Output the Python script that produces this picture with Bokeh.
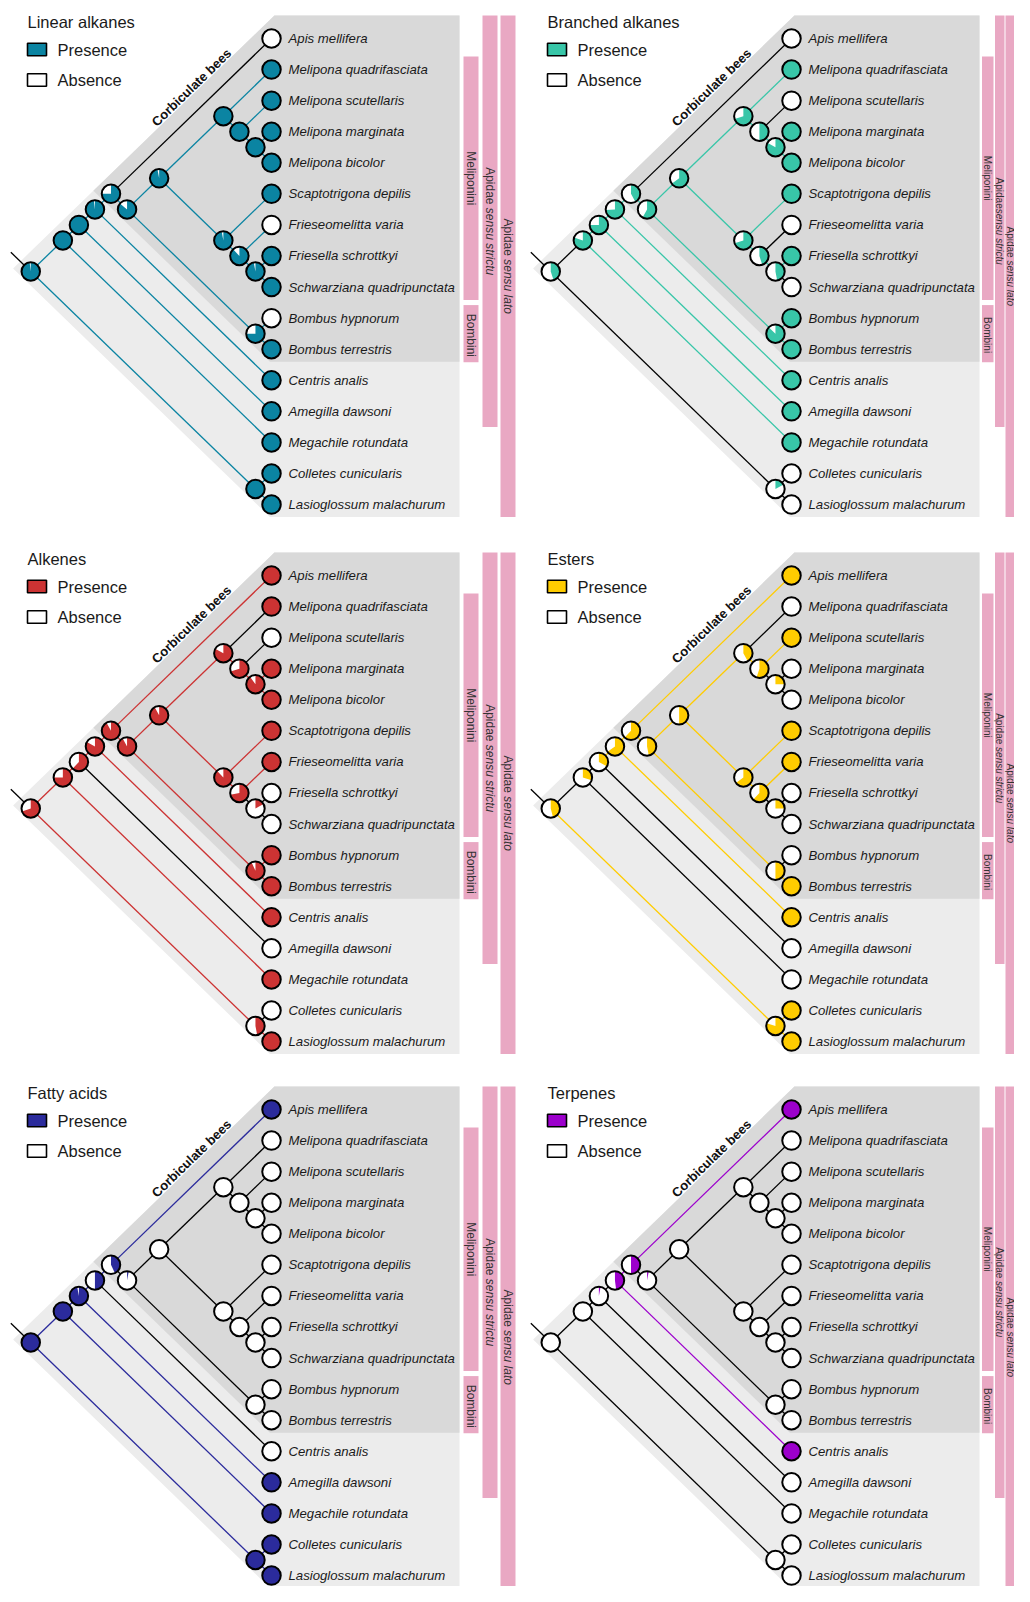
import math
from bokeh.plotting import figure
from bokeh.layouts import column, row
from bokeh.models import Range1d
from bokeh.core.properties import value
from bokeh.embed import file_html
from bokeh.resources import INLINE

# ---------------- data ----------------
TAXA = [
    "Apis mellifera", "Melipona quadrifasciata", "Melipona scutellaris",
    "Melipona marginata", "Melipona bicolor", "Scaptotrigona depilis",
    "Frieseomelitta varia", "Friesella schrottkyi", "Schwarziana quadripunctata",
    "Bombus hypnorum", "Bombus terrestris", "Centris analis", "Amegilla dawsoni",
    "Megachile rotundata", "Colletes cunicularis", "Lasioglossum malachurum",
]

# internal nodes (tips are integers = index in TAXA)
NODE_NAMES = ["root", "A", "B", "C", "D", "E", "F", "G", "H", "I", "J", "K", "L", "BOM", "CL"]
CHILDREN = {
    "root": ["A", "CL"], "A": ["B", 13], "B": ["C", 12], "C": ["D", 11],
    "D": [0, "E"], "E": ["F", "BOM"], "F": ["G", "J"], "G": [1, "H"],
    "H": [2, "I"], "I": [3, 4], "J": [5, "K"], "K": [6, "L"], "L": [7, 8],
    "BOM": [9, 10], "CL": [14, 15],
}

TRAITS = ["Linear alkanes", "Branched alkanes", "Alkenes", "Esters", "Fatty acids", "Terpenes"]
TRAIT_COLORS = ["#0b84a2", "#38c6a8", "#cc3333", "#ffcc00", "#2b2b9c", "#9c00cc"]

# tip states (1 = presence)
TIPS_LINEAR = [0, 1, 1, 1, 1, 1, 0, 1, 1, 0, 1, 1, 1, 1, 1, 1]
TIPS_BRANCHED = [0, 1, 0, 1, 1, 1, 0, 1, 0, 1, 1, 1, 1, 1, 0, 0]
TIPS_ALKENES = [1, 1, 0, 1, 1, 1, 1, 0, 0, 1, 1, 1, 0, 1, 0, 1]
TIPS_ESTERS = [1, 0, 1, 0, 0, 1, 1, 0, 0, 0, 1, 1, 0, 0, 1, 1]
TIPS_FATTY = [1, 0, 0, 0, 0, 0, 0, 0, 0, 0, 0, 0, 1, 1, 1, 1]
TIPS_TERPENES = [1, 0, 0, 0, 0, 0, 0, 0, 0, 0, 0, 1, 0, 0, 0, 0]

# probability of presence at internal nodes (order of NODE_NAMES)
NODES_LINEAR = [0.98, 1.0, 1.0, 0.98, 0.75, 0.86, 0.97, 1.0, 1.0, 1.0, 0.97, 0.88, 0.97, 0.75, 1.0]
NODES_BRANCHED = [0.45, 0.80, 0.75, 0.74, 0.42, 0.58, 0.65, 0.70, 0.50, 0.83, 0.70, 0.45, 0.47, 0.87, 0.17]
NODES_ALKENES = [0.70, 0.75, 0.62, 0.83, 0.92, 0.92, 0.92, 0.83, 0.70, 0.90, 0.88, 0.72, 0.17, 0.93, 0.47]
NODES_ESTERS = [0.46, 0.30, 0.33, 0.65, 0.62, 0.47, 0.50, 0.42, 0.55, 0.25, 0.65, 0.62, 0.25, 0.50, 0.80]
NODES_FATTY = [1.0, 1.0, 0.97, 0.50, 0.43, 0.03, 0, 0, 0, 0, 0, 0, 0, 0, 1.0]
NODES_TERPENES = [0, 0, 0.03, 0.48, 0.50, 0.03, 0, 0, 0, 0, 0, 0, 0, 0, 0]

# branches (identified by their child) drawn black instead of the trait colour
BLACK_LINEAR = [0]
BLACK_BRANCHED = ["A", "CL", 0, 2, 6, 8, 14, 15]
BLACK_ALKENES = [12, 1, 2, "L", 7, 8, 14]
BLACK_ESTERS = ["A", "B", 13, 12, 1, "I", 3, 4, "L", 7, 8, 9]
BLACK_FATTY = [1, 2, 3, 4, 5, 6, 7, 8, 9, 10, 11, "E", "F", "G", "H", "I", "J", "K", "L", "BOM"]
BLACK_TERPENES = [1, 2, 3, 4, 5, 6, 7, 8, 9, 10, 12, 13, 14, 15,
                  "A", "B", "C", "E", "F", "G", "H", "I", "J", "K", "L", "BOM", "CL"]

TIPS = [TIPS_LINEAR, TIPS_BRANCHED, TIPS_ALKENES, TIPS_ESTERS, TIPS_FATTY, TIPS_TERPENES]
NODES = [NODES_LINEAR, NODES_BRANCHED, NODES_ALKENES, NODES_ESTERS, NODES_FATTY, NODES_TERPENES]
BLACK = [BLACK_LINEAR, BLACK_BRANCHED, BLACK_ALKENES, BLACK_ESTERS, BLACK_FATTY, BLACK_TERPENES]

# shaded clades (first tip, last tip)
CLADE_ALL = (0, 15)
CLADE_CORBICULATE = (0, 10)
# annotated clades: roman part, italic part, first tip, last tip, column
BARS = [
    ("Meliponini", "", 1, 8, 0),
    ("Bombini", "", 9, 10, 0),
    ("Apidae ", "sensu strictu", 0, 12, 1),
    ("Apidae ", "sensu lato", 0, 15, 2),
]
BAR_LABEL_OVERRIDE = {1: {2: ("Apidae", "sensu strictu")}}

# ---------------- style / layout ----------------
FONT = "Liberation Sans"
PINK = "#e9a8c3"
LIGHT = "#ececec"
DARK = "#d9d9d9"
SX = 32.1
DY = 31.07
COL_LEFT = [0, 519]
COL_W = [519, 495]
TIP_SX = [271, 791]
ROW_TOP = [0, 536, 1073]
ROW_H = [536, 537, 513]
TIP_SY = [38, 575, 1109]
RIGHT_EDGE = 188 / SX
# bar horizontal extents in px from the tip column (left column / right column)
BAR_PX = [[(192, 207), (211, 226), (229, 244)],
          [(190.5, 202), (203.5, 213), (214, 223)]]
BAR_FS = [12, 10]
BAR_TOP_PAD = [0.42, 0.74, 0.74]
BAR_BOT_PAD = [0.42, 0.50, 0.40]
DOT = 18.5
DOT_LW = 2.0

AFM = {' ': 278, 'A': 667, 'B': 667, 'M': 833, 'a': 556, 'b': 556, 'c': 500, 'd': 556,
       'e': 556, 'i': 222, 'l': 222, 'n': 556, 'o': 556, 'p': 556, 'r': 333, 's': 500,
       't': 278, 'u': 556}


def text_w(s, size):
    return sum(AFM.get(ch, 556) for ch in s) / 1000.0 * size


def span(node):
    if isinstance(node, int):
        return node, node
    sp = [span(c) for c in CHILDREN[node]]
    return min(s[0] for s in sp), max(s[1] for s in sp)


def pos(node):
    if isinstance(node, int):
        return 0.0, float(node)
    lo, hi = span(node)
    return -(hi - lo) / 2.0, (lo + hi) / 2.0


BRANCHES = []
def collect(node):
    for ch in CHILDREN[node]:
        BRANCHES.append((node, ch))
        if not isinstance(ch, int):
            collect(ch)
collect("root")


def clade_patch(p, clade, color):
    a, b = clade
    vx = (a - b - 1.1) / 2.0
    vy = (a + b - 0.2) / 2.0
    xs = [vx, 0.09, RIGHT_EDGE, RIGHT_EDGE, -0.05]
    ys = [vy, a - 0.74, a - 0.74, b + 0.40, b + 0.40]
    p.patch(xs, ys, fill_color=color, line_color=None)


def make_panel(k, c, r):
    x0 = -(TIP_SX[c] - COL_LEFT[c]) / SX
    x1 = x0 + COL_W[c] / SX
    ytop = -(TIP_SY[r] - ROW_TOP[r]) / DY
    ybot = ytop + ROW_H[r] / DY
    p = figure(width=COL_W[c], height=ROW_H[r], x_range=Range1d(x0, x1),
               y_range=Range1d(ybot, ytop), output_backend="svg", toolbar_location=None,
               x_axis_location=None, y_axis_location=None, min_border=0,
               outline_line_color=None, background_fill_color="white",
               border_fill_color="white")
    p.grid.visible = False
    color = TRAIT_COLORS[k]

    clade_patch(p, CLADE_ALL, LIGHT)
    clade_patch(p, CLADE_CORBICULATE, DARK)

    # clade bars
    fs = BAR_FS[c]
    for bi, (rom, ita, a, b, lvl) in enumerate(BARS):
        if k in BAR_LABEL_OVERRIDE and bi in BAR_LABEL_OVERRIDE[k]:
            rom, ita = BAR_LABEL_OVERRIDE[k][bi]
        top = a - BAR_TOP_PAD[lvl]
        bot = b + BAR_BOT_PAD[lvl]
        left = BAR_PX[c][lvl][0] / SX
        right = BAR_PX[c][lvl][1] / SX
        p.quad(left=left, right=right, top=top, bottom=bot,
               fill_color=PINK, line_color=None)
        total = text_w(rom, fs) + text_w(ita, fs)
        yc = (top + bot) / 2.0
        ys = yc - total / 2.0 / DY
        xc = (left + right) / 2.0
        p.text(x=[xc], y=[ys], text=[rom], angle=-math.pi / 2, text_align="left",
               text_baseline="middle", text_font=value(FONT), text_font_size=f"{fs}px",
               text_color="#333333")
        if ita:
            p.text(x=[xc], y=[ys + text_w(rom, fs) / DY], text=[ita], angle=-math.pi / 2,
                   text_align="left", text_baseline="middle", text_font=value(FONT),
                   text_font_size=f"{fs}px", text_font_style="italic", text_color="#333333")

    # branches
    bx0, by0, bx1, by1, bc = [], [], [], [], []
    for par, ch in BRANCHES:
        px_, py_ = pos(par)
        cx_, cy_ = pos(ch)
        bx0.append(px_); by0.append(py_); bx1.append(cx_); by1.append(cy_)
        bc.append("black" if ch in BLACK[k] else color)
    rx, ry = pos("root")
    bx0.append(rx - 0.62); by0.append(ry - 0.62); bx1.append(rx); by1.append(ry)
    bc.append("black")
    p.segment(x0=bx0, y0=by0, x1=bx1, y1=by1, line_color=bc, line_width=1.3)

    # internal node pies
    for ni, name in enumerate(NODE_NAMES):
        x, y = pos(name)
        pr = NODES[k][ni]
        if pr >= 0.995:
            p.scatter([x], [y], size=DOT, fill_color=color, line_color="black", line_width=DOT_LW)
        elif pr <= 0.005:
            p.scatter([x], [y], size=DOT, fill_color="white", line_color="black", line_width=DOT_LW)
        else:
            p.scatter([x], [y], size=DOT, fill_color="white", line_color=None)
            p.wedge(x=[x], y=[y], radius=DOT / 2.0, radius_units="screen",
                    start_angle=math.pi / 2, end_angle=math.pi / 2 - 2 * math.pi * pr,
                    direction="clock", fill_color=color, line_color=None)
            p.scatter([x], [y], size=DOT, fill_color=None, line_color="black", line_width=DOT_LW)

    # tips
    p.scatter([0.0] * len(TAXA), list(range(len(TAXA))), size=DOT,
              fill_color=[color if s else "white" for s in TIPS[k]],
              line_color="black", line_width=DOT_LW)
    p.text(x=[17 / SX] * len(TAXA), y=list(range(len(TAXA))), text=TAXA,
           text_font=value(FONT), text_font_style="italic", text_font_size="13.2px",
           text_baseline="middle", text_align="left", text_color="#1a1a1a")

    # title and legend
    p.text(x=[-244 / SX], y=[-17 / DY], text=[TRAITS[k]], text_font=value(FONT),
           text_font_size="16.5px", text_baseline="middle", text_color="#1a1a1a")
    p.rect(x=[-234.5 / SX, -234.5 / SX], y=[11 / DY, 41.5 / DY], width=19, height=12.5,
           width_units="screen", height_units="screen",
           fill_color=[color, "white"], line_color="black", line_width=1.6)
    p.text(x=[-214 / SX] * 2, y=[11 / DY, 41.5 / DY], text=["Presence", "Absence"],
           text_font=value(FONT), text_font_size="16.5px", text_baseline="middle",
           text_color="#1a1a1a")

    # clade name along the Apis branch
    ang = math.atan2(DY, SX)
    p.text(x=[-80 / SX], y=[49 / DY], text=["Corbiculate bees"], angle=ang,
           text_align="center", text_baseline="middle", text_font=value(FONT),
           text_font_style="bold", text_font_size="13px", text_color="#111111")
    return p


panels = [make_panel(k, k % 2, k // 2) for k in range(6)]
layout = column(row(panels[0], panels[1]), row(panels[2], panels[3]),
                row(panels[4], panels[5]))

open("out.html", "w").write(file_html(layout, INLINE))
